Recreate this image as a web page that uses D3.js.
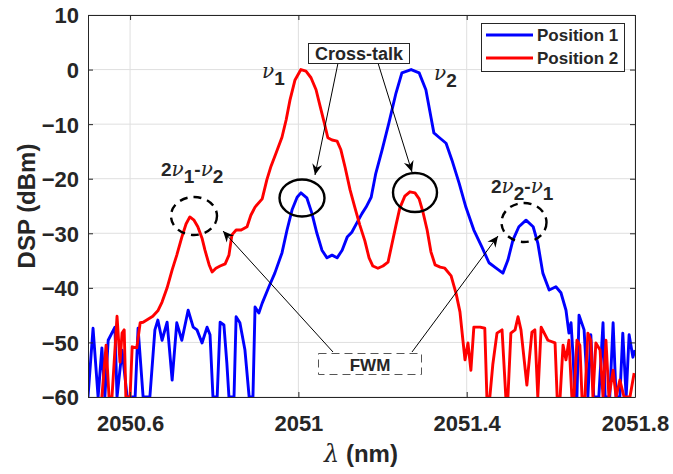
<!DOCTYPE html>
<html>
<head>
<meta charset="utf-8">
<script src="https://cdn.jsdelivr.net/npm/d3@7/dist/d3.min.js"></script>
<style>
  html, body { margin: 0; padding: 0; background: #fff; }
  svg { display: block; }
  text { font-family: "Liberation Sans", Arial, Helvetica, sans-serif; fill: #262626; }
</style>
</head>
<body>
<svg id="chart" width="673" height="474"></svg>
<script>
// ---------------- DATA ----------------
const xTicks = [2050.6, 2051, 2051.4, 2051.8];
const xTickLabels = ["2050.6", "2051", "2051.4", "2051.8"];
const yTicks = [10, 0, -10, -20, -30, -40, -50, -60];
const seriesNames = ["Position 1", "Position 2"];

// Position 1 (blue)
const blueLambda = [2050.500, 2050.512, 2050.524, 2050.533, 2050.540, 2050.548, 2050.564, 2050.569, 2050.581, 2050.593,
  2050.612, 2050.619, 2050.631, 2050.647, 2050.659, 2050.666, 2050.676, 2050.688, 2050.700, 2050.711,
  2050.723, 2050.738, 2050.750, 2050.759, 2050.771, 2050.783, 2050.790, 2050.797, 2050.807, 2050.814,
  2050.823, 2050.830, 2050.835, 2050.847, 2050.852, 2050.861, 2050.873, 2050.883, 2050.892, 2050.897,
  2050.906, 2050.914, 2050.930, 2050.944, 2050.961, 2050.973, 2050.985, 2050.997, 2051.006, 2051.020,
  2051.032, 2051.044, 2051.056, 2051.068, 2051.080, 2051.092, 2051.104, 2051.116, 2051.127, 2051.139,
  2051.151, 2051.161, 2051.173, 2051.184, 2051.199, 2051.215, 2051.232, 2051.246, 2051.268, 2051.287,
  2051.303, 2051.315, 2051.322, 2051.334, 2051.351, 2051.365, 2051.382, 2051.398, 2051.417, 2051.436,
  2051.453, 2051.470, 2051.486, 2051.498, 2051.510, 2051.524, 2051.541, 2051.558, 2051.569, 2051.581,
  2051.596, 2051.612, 2051.624, 2051.636, 2051.643, 2051.648, 2051.653, 2051.657, 2051.662, 2051.667,
  2051.679, 2051.688, 2051.695, 2051.702, 2051.714, 2051.724, 2051.729, 2051.740, 2051.748, 2051.755,
  2051.764, 2051.771, 2051.779, 2051.786, 2051.795, 2051.800];
const blueDb = [-60, -47.4, -60, -51.0, -60, -49.6, -47.2, -60, -51.4, -60,
  -60, -47.4, -60, -60, -47.7, -45.9, -49.6, -46.3, -56.9, -46.4,
  -49.6, -44.1, -47.2, -47.7, -50.1, -47.2, -48.6, -60, -60, -46.3,
  -46.8, -53.8, -60, -60, -45.3, -46.4, -51.4, -60, -60, -43.5,
  -44.6, -42.8, -39.8, -37.3, -33.6, -29.4, -25.7, -23.4, -22.6, -23.5,
  -26.3, -30.0, -33.1, -34.5, -34.0, -34.5, -33.1, -30.7, -29.8, -28.1,
  -26.4, -25.2, -23.4, -19.0, -14.7, -9.8, -4.3, -0.6, 0, -0.6,
  -3.7, -8.7, -11.6, -12.4, -13.5, -16.6, -20.8, -25.2, -29.4, -32.5,
  -35.4, -36.4, -37.3, -34.9, -31.2, -28.8, -27.6, -28.8, -31.8, -37.3,
  -40.4, -39.8, -40.9, -44.1, -48.3, -46.4, -52.7, -60, -60, -45.0,
  -47.7, -60, -48.6, -60, -60, -46.4, -60, -60, -46.4, -60,
  -60, -48.3, -60, -48.6, -52.7, -51.4];

// Position 2 (red)
const redLambda = [2050.533, 2050.543, 2050.550, 2050.557, 2050.569, 2050.576, 2050.581, 2050.586, 2050.590, 2050.600,
  2050.605, 2050.616, 2050.624, 2050.631, 2050.654, 2050.666, 2050.676, 2050.688, 2050.700, 2050.711,
  2050.723, 2050.733, 2050.742, 2050.752, 2050.761, 2050.771, 2050.778, 2050.788, 2050.795, 2050.804,
  2050.814, 2050.826, 2050.835, 2050.842, 2050.852, 2050.864, 2050.878, 2050.887, 2050.897, 2050.914,
  2050.925, 2050.935, 2050.947, 2050.961, 2050.971, 2050.980, 2050.992, 2051.006, 2051.018, 2051.030,
  2051.042, 2051.051, 2051.061, 2051.070, 2051.080, 2051.092, 2051.101, 2051.111, 2051.123, 2051.134,
  2051.146, 2051.158, 2051.168, 2051.177, 2051.189, 2051.201, 2051.213, 2051.222, 2051.232, 2051.241,
  2051.253, 2051.265, 2051.277, 2051.287, 2051.296, 2051.306, 2051.315, 2051.325, 2051.337, 2051.348,
  2051.363, 2051.375, 2051.384, 2051.391, 2051.396, 2051.403, 2051.410, 2051.417, 2051.432, 2051.443,
  2051.448, 2051.455, 2051.462, 2051.472, 2051.484, 2051.493, 2051.498, 2051.505, 2051.515, 2051.522,
  2051.529, 2051.543, 2051.555, 2051.562, 2051.569, 2051.577, 2051.593, 2051.610, 2051.615, 2051.622,
  2051.629, 2051.636, 2051.643, 2051.650, 2051.655, 2051.662, 2051.669, 2051.674, 2051.681, 2051.688,
  2051.695, 2051.700, 2051.707, 2051.717, 2051.724, 2051.731, 2051.738, 2051.748, 2051.755, 2051.764,
  2051.774, 2051.788, 2051.798];
const redDb = [-60, -50.5, -60, -60, -45.2, -53.6, -48.3, -47.7, -60, -60,
  -50.8, -51.0, -46.4, -46.3, -45.2, -44.2, -42.6, -40.0, -36.7, -34.0,
  -30.7, -28.3, -27.0, -27.6, -28.8, -30.9, -33.1, -35.8, -37.1, -36.4,
  -36.0, -35.6, -34.0, -30.3, -29.4, -29.4, -28.8, -26.7, -25.2, -23.7,
  -20.2, -17.7, -15.3, -12.4, -9.2, -5.6, -1.9, 0, -0.3, -1.5,
  -3.7, -6.5, -9.6, -12.5, -12.9, -13.1, -14.7, -17.9, -22.1, -25.2,
  -28.5, -31.4, -34.5, -36.0, -36.4, -36.0, -35.3, -32.1, -28.5, -25.4,
  -23.2, -22.4, -22.6, -23.7, -26.1, -29.4, -33.4, -35.8, -36.2, -36.4,
  -37.8, -41.1, -44.4, -49.6, -53.2, -50.1, -55.1, -47.2, -47.2, -47.4,
  -60, -60, -54.1, -48.3, -47.7, -60, -60, -48.3, -47.7, -45.3,
  -47.7, -57.8, -48.1, -47.7, -60, -47.2, -49.6, -50.1, -60, -60,
  -50.5, -53.2, -49.6, -60, -60, -49.6, -50.5, -60, -60, -48.3,
  -49.6, -60, -50.1, -51.4, -60, -49.6, -60, -55.1, -60, -56.9,
  -60, -60, -55.6];

// ---------------- CHART ----------------
const svg = d3.select("#chart");
const L = 88, T = 15, R = 635, B = 397;
const x = d3.scaleLinear().domain([2050.5, 2051.8]).range([L, R]);
const y = d3.scaleLinear().domain([-60, 10]).range([B, T]);
const ink = "#262626";

svg.append("rect").attr("x", L).attr("y", T).attr("width", R - L).attr("height", B - T).attr("fill", "#fff");

// grid
const grid = svg.append("g");
grid.selectAll("line.gx").data(xTicks).join("line")
  .attr("x1", d => x(d)).attr("x2", d => x(d)).attr("y1", T).attr("y2", B)
  .attr("stroke", "#dfdfdf").attr("stroke-width", 1);
grid.selectAll("line.gy").data(yTicks).join("line")
  .attr("x1", L).attr("x2", R).attr("y1", d => y(d)).attr("y2", d => y(d))
  .attr("stroke", "#dfdfdf").attr("stroke-width", 1);

// clip
svg.append("clipPath").attr("id", "clip").append("rect")
  .attr("x", L).attr("y", T - 2).attr("width", R - L).attr("height", B - T + 2);

const line = d3.line().x(d => x(d[0])).y(d => y(d[1]));
const blue = blueLambda.map((v, i) => [v, blueDb[i]]);
const red = redLambda.map((v, i) => [v, redDb[i]]);
const plot = svg.append("g").attr("clip-path", "url(#clip)");
plot.append("path").datum(blue).attr("d", line).attr("fill", "none")
  .attr("stroke", "#0000ff").attr("stroke-width", 2.9).attr("stroke-linejoin", "round");
plot.append("path").datum(red).attr("d", line).attr("fill", "none")
  .attr("stroke", "#ff0000").attr("stroke-width", 2.9).attr("stroke-linejoin", "round");

// axes (box with inward ticks)
const axB = d3.axisBottom(x).tickValues(xTicks).tickSizeInner(-5).tickSizeOuter(0).tickFormat((d, i) => xTickLabels[i]);
const axT = d3.axisTop(x).tickValues(xTicks).tickSizeInner(-5).tickSizeOuter(0).tickFormat("");
const axLft = d3.axisLeft(y).tickValues(yTicks).tickSizeInner(-5).tickSizeOuter(0).tickFormat(d3.format("d"));
const axRt = d3.axisRight(y).tickValues(yTicks).tickSizeInner(-5).tickSizeOuter(0).tickFormat("");

function styleAxis(g) {
  g.select(".domain").attr("stroke", ink).attr("stroke-width", 1);
  g.selectAll(".tick line").attr("stroke", ink);
  g.selectAll(".tick text").attr("fill", ink).style("font-family", '"Liberation Sans", Arial, sans-serif')
    .style("font-weight", "bold").style("font-size", "22px");
}
const gB = svg.append("g").attr("transform", `translate(0,${B})`).call(axB).call(styleAxis);
gB.selectAll(".tick text").attr("y", 18).attr("dy", "0.71em");
const gT = svg.append("g").attr("transform", `translate(0,${T})`).call(axT).call(styleAxis);
const gL = svg.append("g").attr("transform", `translate(${L},0)`).call(axLft).call(styleAxis);
gL.selectAll(".tick text").attr("x", -9).attr("dy", "0.36em");
const gR = svg.append("g").attr("transform", `translate(${R},0)`).call(axRt).call(styleAxis);

// axis titles
const xt = svg.append("text").attr("x", 361).attr("y", 462).attr("text-anchor", "middle")
  .style("font-size", "24px").style("font-weight", "bold");
xt.append("tspan").text("λ").style("font-style", "italic").style("font-weight", "normal")
  .style("font-family", '"DejaVu Serif", serif');
xt.append("tspan").text(" (nm)");
svg.append("text").attr("transform", "translate(35,206) rotate(-90)").attr("text-anchor", "middle")
  .style("font-size", "24px").style("font-weight", "bold").text("DSP (dBm)");

// legend
const leg = svg.append("g");
leg.append("rect").attr("x", 481.5).attr("y", 23.5).attr("width", 143).attr("height", 48)
  .attr("fill", "#fff").attr("stroke", ink).attr("stroke-width", 1);
const legColors = ["#0000ff", "#ff0000"];
seriesNames.forEach((n, i) => {
  const yy = 35 + i * 23;
  leg.append("line").attr("x1", 486).attr("x2", 533).attr("y1", yy).attr("y2", yy)
    .attr("stroke", legColors[i]).attr("stroke-width", 2.9);
  leg.append("text").attr("x", 537).attr("y", yy + 6).style("font-size", "17px").style("font-weight", "bold").text(n);
});

// annotations
const defs = svg.append("defs");
defs.append("marker").attr("id", "ah").attr("viewBox", "-12 -6 14 12")
  .attr("refX", 0).attr("refY", 0).attr("markerWidth", 14).attr("markerHeight", 12)
  .attr("markerUnits", "userSpaceOnUse").attr("orient", "auto")
  .append("path").attr("d", "M0,0 L-11,-5 L-7.5,0 L-11,5 Z").attr("fill", "#000");

function arrow(x1, y1, x2, y2) {
  svg.append("line").attr("x1", x1).attr("y1", y1).attr("x2", x2).attr("y2", y2)
    .attr("stroke", "#000").attr("stroke-width", 1).attr("marker-end", "url(#ah)");
}
arrow(338, 63, 315, 175);
arrow(378, 63, 412, 172);
arrow(333, 352, 223, 231);
arrow(412, 352, 498, 236);

// cross-talk box
svg.append("rect").attr("x", 308.5).attr("y", 43.5).attr("width", 101).attr("height", 20)
  .attr("fill", "#fff").attr("stroke", ink).attr("stroke-width", 1);
svg.append("text").attr("x", 359).attr("y", 60).attr("text-anchor", "middle")
  .style("font-size", "18px").style("font-weight", "bold").text("Cross-talk");

// FWM box
svg.append("rect").attr("x", 318.5).attr("y", 353.5).attr("width", 103).attr("height", 21)
  .attr("fill", "#fff").attr("stroke", "#555").attr("stroke-width", 1).attr("stroke-dasharray", "8,5");
svg.append("text").attr("x", 370).attr("y", 371).attr("text-anchor", "middle")
  .style("font-size", "17px").style("font-weight", "bold").text("FWM");

// ellipses
svg.append("ellipse").attr("cx", 302).attr("cy", 198).attr("rx", 22.5).attr("ry", 18.5)
  .attr("fill", "none").attr("stroke", "#000").attr("stroke-width", 2.4);
svg.append("ellipse").attr("cx", 415).attr("cy", 192.5).attr("rx", 22).attr("ry", 19.5)
  .attr("fill", "none").attr("stroke", "#000").attr("stroke-width", 2.4);
svg.append("ellipse").attr("cx", 194).attr("cy", 216).attr("rx", 23).attr("ry", 19)
  .attr("fill", "none").attr("stroke", "#000").attr("stroke-width", 2.4).attr("stroke-dasharray", "8,6");
svg.append("ellipse").attr("cx", 524).attr("cy", 222.5).attr("rx", 22.5).attr("ry", 19.5)
  .attr("fill", "none").attr("stroke", "#000").attr("stroke-width", 2.4).attr("stroke-dasharray", "8,6");

// nu labels
function nuLabel(xp, yp, parts) {
  const t = svg.append("text").attr("x", xp).attr("y", yp).style("font-size", "19px").style("font-weight", "bold");
  parts.forEach(p => {
    const s = t.append("tspan").text(p.t);
    if (p.nu) s.style("font-family", '"DejaVu Serif", serif').style("font-style", "italic").style("font-weight", "normal").style("font-size", "20px");
    if (p.dy) s.attr("dy", p.dy);
  });
}
nuLabel(262, 78, [{t: "ν", nu: true}, {t: "1", dy: 7}]);
nuLabel(434, 80, [{t: "ν", nu: true}, {t: "2", dy: 7}]);
nuLabel(161, 176, [{t: "2"}, {t: "ν", nu: true}, {t: "1", dy: 7}, {t: "-", dy: -7}, {t: "ν", nu: true}, {t: "2", dy: 7}]);
nuLabel(491, 193, [{t: "2"}, {t: "ν", nu: true}, {t: "2", dy: 7}, {t: "-", dy: -7}, {t: "ν", nu: true}, {t: "1", dy: 7}]);
</script>
</body>
</html>
